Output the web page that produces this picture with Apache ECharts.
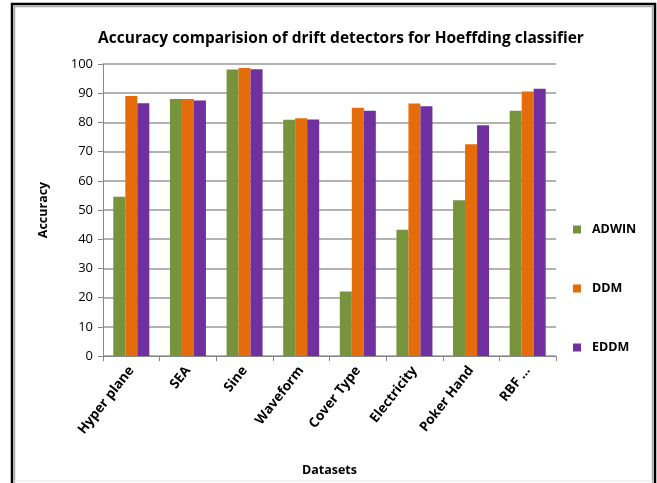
<!DOCTYPE html>
<html><head><meta charset="utf-8">
<script src="https://cdn.jsdelivr.net/npm/echarts@6/dist/echarts.min.js"></script>
<style>html,body{margin:0;padding:0;background:#fff}#c{width:657px;height:483px}</style>
</head><body><div id="c"></div>
<script>
const categories = ['Hyper plane','SEA','Sine','Waveform','Cover Type','Electricity','Poker Hand','RBF ...'];
const adwin = [54.5, 88.0, 98.1, 80.9, 22.1, 43.2, 53.3, 84.0];
const ddm   = [89.0, 88.0, 98.6, 81.4, 85.0, 86.5, 72.5, 90.6];
const eddm  = [86.6, 87.5, 98.2, 81.0, 84.0, 85.5, 79.0, 91.5];
const yTicks = [0,10,20,30,40,50,60,70,80,90,100];

const chart = echarts.init(document.getElementById('c'));
const font = 'Open Sans';
chart.setOption({
  animation:false,
  title:{text:'Accuracy comparision of drift detectors for Hoeffding classifier',left:336,textAlign:'center',top:26,
    textStyle:{fontFamily:font,fontSize:15.5,fontWeight:'bold',color:'#000'}},
  graphic:[
    {type:'polyline',shape:{points:[[12,490],[12,4],[655,4],[655,490]]},style:{stroke:'#000',lineWidth:2.5,fill:null}},
    {type:'polyline',shape:{points:[[14.5,490],[14.5,6.5],[652.5,6.5],[652.5,490]]},style:{stroke:'#aaa',lineWidth:1.5,fill:null}},
    {type:'line',shape:{x1:14,y1:481,x2:653,y2:481},style:{stroke:'#e6e6e6',lineWidth:1}}
  ],
  legend:{orient:'vertical',left:568,top:218,itemGap:46,itemWidth:8,itemHeight:8,icon:'rect',
    textStyle:{fontFamily:font,fontSize:12.5,fontWeight:'bold',color:'#000',padding:[0,0,0,6]},
    data:['ADWIN','DDM','EDDM']},
  grid:{left:103,right:101,top:64,bottom:127},
  xAxis:{type:'category',data:categories,name:'Datasets',nameLocation:'middle',nameGap:108,
    nameTextStyle:{fontFamily:font,fontSize:12.5,fontWeight:'bold',color:'#000'},
    axisLine:{lineStyle:{color:'#888'}},axisTick:{show:true,length:5,lineStyle:{color:'#888'}},
    axisLabel:{rotate:52,interval:0,fontFamily:font,fontSize:13.5,fontWeight:'bold',color:'#000',margin:12}},
  yAxis:{type:'value',min:0,max:100,interval:10,name:'Accuracy',nameLocation:'middle',nameGap:53,
    nameTextStyle:{fontFamily:font,fontSize:12.5,fontWeight:'bold',color:'#000'},
    axisLine:{show:true,lineStyle:{color:'#888'}},axisTick:{show:true,length:5,lineStyle:{color:'#888'}},
    axisLabel:{fontFamily:font,fontSize:13,color:'#000',margin:10},
    splitLine:{lineStyle:{color:'#999',width:1.5}}},
  series:[
    {name:'ADWIN',type:'bar',data:adwin,itemStyle:{color:'#77933C'},barWidth:12,barGap:'0%',barCategoryGap:'35%'},
    {name:'DDM',type:'bar',data:ddm,itemStyle:{color:'#E46C0A'},barWidth:12,barGap:'0%'},
    {name:'EDDM',type:'bar',data:eddm,itemStyle:{color:'#7030A0'},barWidth:12,barGap:'0%'}
  ]
});
</script></body></html>
